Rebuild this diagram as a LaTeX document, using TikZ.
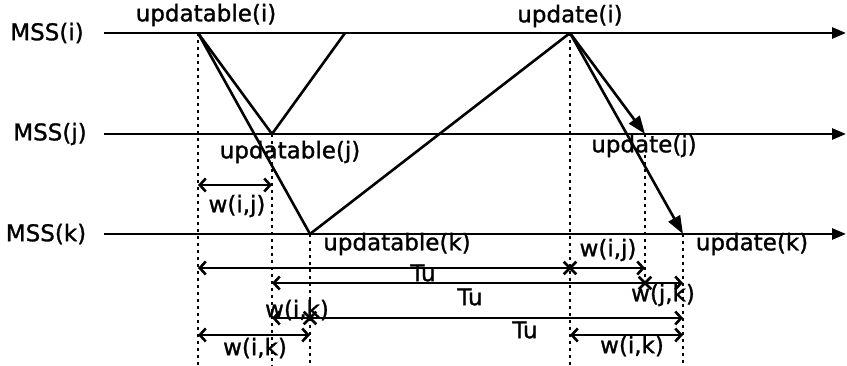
\documentclass[tikz,border=0pt]{standalone}
\usepackage{fontspec}
\setmainfont{DejaVu Sans}[FakeBold=1.2]
\usetikzlibrary{arrows.meta,shapes.misc}
\begin{document}
\begin{tikzpicture}[x=1pt,y=-1pt,font=\fontsize{23}{25}\selectfont,
  timeline/.style={line width=2.6pt,-{Triangle[length=14pt,width=11pt]}},
  msg/.style={line width=2.6pt},
  msgarrow/.style={line width=2.6pt,-{Triangle[length=18pt,width=13pt]}},
  guide/.style={line width=2.6pt,dash pattern=on 2.6pt off 4.4pt},
  dim/.style={line width=2.6pt,{Straight Barb[length=6pt,width=13pt,line width=2.6pt]}-{Straight Barb[length=6pt,width=13pt,line width=2.6pt]}},
  xmark/.style={cross out,draw,line width=2.6pt,minimum size=10pt,inner sep=0pt},
  lbl/.style={inner sep=0pt}]
\useasboundingbox (0,0) rectangle (847,366);
% timelines
\coordinate (i0) at (104,33); \coordinate (i1) at (846,33);
\coordinate (j0) at (104,134); \coordinate (j1) at (846,134);
\coordinate (k0) at (104,234); \coordinate (k1) at (846,234);
\draw[timeline] (i0) -- (i1);
\draw[timeline] (j0) -- (j1);
\draw[timeline] (k0) -- (k1);
% events
\coordinate (ui) at (198,33);
\coordinate (uj) at (272,134);
\coordinate (uk) at (310,234);
\coordinate (ret) at (345,33);
\coordinate (upi) at (570,33);
\coordinate (upj) at (645,134);
\coordinate (upk) at (683,234);
% messages
\draw[msg] (ui) -- (uj);
\draw[msg] (ui) -- (uk);
\draw[msg] (uj) -- (ret);
\draw[msg] (uk) -- (upi);
\draw[msgarrow] (upi) -- (upj);
\draw[msgarrow] (upi) -- (upk);
% guide lines
\coordinate (gui) at (198,366);
\coordinate (guj) at (272,366);
\coordinate (guk) at (310,366);
\coordinate (gupi) at (570,366);
\coordinate (gupj) at (645,283);
\coordinate (gupk) at (683,366);
\draw[guide] (ui) -- (gui);
\draw[guide] (uj) -- (guj);
\draw[guide] (uk) -- (guk);
\draw[guide] (upi) -- (gupi);
\draw[guide] (upj) -- (gupj);
\draw[guide] (upk) -- (gupk);
% dimension rows
\coordinate (a0) at (198,185); \coordinate (a1) at (272,185);
\draw[dim] (a0) -- (a1);
\coordinate (b0) at (198,268); \coordinate (b1) at (645,268);
\draw[dim] (b0) -- (b1);
\node[xmark] (xb) at (570,268) {};
\coordinate (c0) at (272,283); \coordinate (c1) at (683,283);
\draw[dim] (c0) -- (c1);
\node[xmark] (xc) at (645,283) {};
\coordinate (d0) at (272,318); \coordinate (d1) at (683,318);
\draw[dim] (d0) -- (d1);
\node[xmark] (xd) at (310,318) {};
\coordinate (e0) at (198,335); \coordinate (e1) at (310,335);
\draw[dim] (e0) -- (e1);
\coordinate (f0) at (570,335); \coordinate (f1) at (683,335);
\draw[dim] (f0) -- (f1);
% labels
\node[lbl] (li) at (47,33) {MSS(i)};
\node[lbl] (lj) at (50,134) {MSS(j)};
\node[lbl] (lk) at (46,234) {MSS(k)};
\node[lbl] (tui) at (206,15) {updatable(i)};
\node[lbl] (tupi) at (570,16) {update(i)};
\node[lbl] (tuj) at (290,152) {updatable(j)};
\node[lbl] (tupj) at (644,146) {update(j)};
\node[lbl] (tuk) at (397,244) {updatable(k)};
\node[lbl] (tupk) at (752,244) {update(k)};
\node[lbl] (w1) at (237,206) {w(i,j)};
\node[lbl] (tu1) at (423,273) {Tu};
\node[lbl] (w2) at (608,250) {w(i,j)};
\node[lbl] (tu2) at (470,297) {Tu};
\node[lbl] (w3) at (663,295) {w(j,k)};
\node[lbl] (w4) at (297,310) {w(i,k)};
\node[lbl] (tu3) at (525,330) {Tu};
\node[lbl] (w5) at (255,348) {w(i,k)};
\node[lbl] (w6) at (632,346) {w(i,k)};
\end{tikzpicture}
\end{document}
